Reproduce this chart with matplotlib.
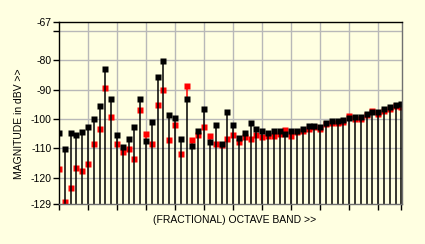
import numpy as np
import matplotlib
matplotlib.use('Agg')
import matplotlib.pyplot as plt

# magnitude per band, dBV (black = main trace, red = second trace)
black_vals = [-104.9, -110.1, -104.9, -105.6, -104.6, -102.8, -100.0, -95.5, -83.1, -93.3,
              -105.6, -109.7, -107.0, -102.8, -93.3, -107.7, -101.2, -85.8, -80.3, -98.8,
              -99.8, -107.0, -93.3, -109.4, -104.3, -96.7, -108.0, -102.2, -108.4, -97.8,
              -102.2, -106.6, -104.7, -101.5, -103.6, -104.3, -104.9, -104.0, -104.0, -105.3,
              -104.3, -104.0, -103.6, -102.4, -102.3, -102.9, -101.3, -100.8, -100.8, -100.4,
              -99.7, -99.4, -99.4, -98.2, -97.8, -97.8, -96.5, -96.0, -95.3, -95.0]
red_vals = [-117.2, -128.2, -123.4, -116.6, -117.9, -115.5, -108.4, -103.6, -89.6, -99.5,
            -108.4, -111.4, -110.1, -113.5, -97.1, -105.3, -108.7, -95.4, -90.2, -107.3,
            -102.2, -112.1, -88.9, -107.3, -105.6, -102.9, -106.0, -108.7, -109.0, -107.0,
            -105.5, -108.0, -106.3, -107.0, -105.5, -106.2, -106.0, -105.8, -105.3, -103.7,
            -105.9, -104.5, -104.0, -103.4, -102.8, -103.3, -101.9, -101.3, -101.3, -100.9,
            -99.1, -100.2, -100.0, -98.8, -97.2, -98.4, -97.2, -96.6, -95.7, -95.9]
bands = np.arange(len(black_vals))

y_ticks = [-129, -120, -110, -100, -90, -80, -70, -67]
y_labels = ['-129', '-120', '-110', '-100', '-90', '-80', '', '-67']
y_min, y_max = -129, -67

bg = '#ffffe1'
plt.rcParams['font.family'] = ['Liberation Sans', 'DejaVu Sans']

fig = plt.figure(figsize=(4.25, 2.44), dpi=100, facecolor=bg)
ax = fig.add_axes([59 / 425, 1 - 204 / 244, 343 / 425, 182 / 244], facecolor=bg)

blk = np.array(black_vals)
red = np.array(red_vals)
# red stem only shows where it rises above the black one
red_start = np.where(red > blk, blk, red)
ax.vlines(bands, red_start, red, color='#ff0000', lw=1.1, zorder=2)
ax.plot(bands, red, 's', color='#ff0000', ms=4.5, mec='none', zorder=3)
ax.vlines(bands, y_min, blk, color='black', lw=1.1, zorder=4)
ax.plot(bands, blk, 's', color='black', ms=4.7, mec='none', zorder=5)

ax.set_xlim(0, 59.1)
ax.set_ylim(y_min, y_max)

ax.set_xticks(list(range(0, 60, 5)) + [59])
ax.set_xticklabels([])
ax.set_yticks(y_ticks)
ax.set_yticklabels(y_labels, fontsize=7.5)
ax.tick_params(direction='out', length=4, width=1, color='black', pad=1.5)

for v in range(5, 60, 5):
    ax.axvline(v, color='#b8b8b8', lw=1, zorder=1)
for v in [-120, -110, -100, -90, -80, -70]:
    ax.axhline(v, color='#b8b8b8', lw=1, zorder=1)

ax.spines['top'].set_color('black')
ax.spines['left'].set_color('black')
ax.spines['bottom'].set_color('#707070')
ax.spines['right'].set_color('#707070')
for s in ax.spines.values():
    s.set_linewidth(1)
    s.set_zorder(6)

fig.text(235 / 425, 1 - 220 / 244, '(FRACTIONAL) OCTAVE BAND >>', fontsize=7.5,
         ha='center', va='center')
fig.text(19 / 425, 1 - 124 / 244, 'MAGNITUDE in dBV >>', fontsize=7.5,
         ha='center', va='center', rotation=90)

fig.savefig('out.png', dpi=100, facecolor=bg)
